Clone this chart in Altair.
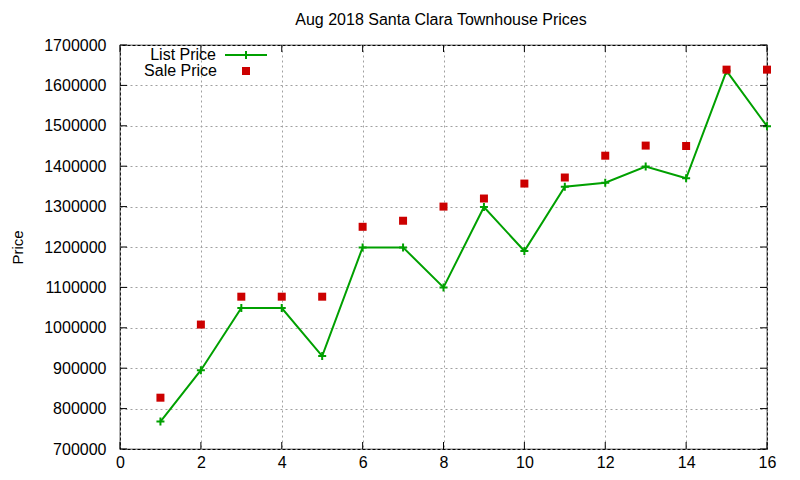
import altair as alt
import pandas as pd

# Listings, in order of sale (Aug 2018)
house = list(range(1, 17))
list_price = [768000, 895000, 1049000, 1049000, 930000, 1199000, 1199000, 1100000,
              1299000, 1190000, 1349000, 1359000, 1399000, 1370000, 1636000, 1499000]
sale_price = [827000, 1008000, 1077000, 1077000, 1077000, 1250000, 1265000, 1300000,
              1320000, 1357000, 1372000, 1426000, 1451000, 1450000, 1639000, 1639000]

x_ticks = list(range(0, 17, 2))
y_ticks = list(range(700000, 1700001, 100000))
title_text = ["Aug 2018 Santa Clara Townhouse Prices"]

_FONT = "Liberation Sans"
_FS = 16
_GREEN = "#00a000"
_RED = "#cc0000"
_CROSS = "M-1,0L1,0M0,-1L0,1"

df = pd.DataFrame({"house": house, "list": list_price, "sale": sale_price})

x_enc = alt.X("house:Q", title=None,
              scale=alt.Scale(domain=[0, 16], nice=False, zero=False),
              axis=alt.Axis(values=x_ticks, format="d", ticks=False,
                            labelPadding=5, labelFlush=False,
                            gridDash=[2, 3], gridColor="#a0a0a0", domain=False))
y_scale = alt.Scale(domain=[700000, 1700000], nice=False, zero=False)
y_axis = alt.Axis(values=y_ticks, format="d", ticks=False, labelPadding=14,
                  labelFlush=False, gridDash=[2, 3], gridColor="#a0a0a0",
                  domain=False, titleX=-98, titleY=202, titleAngle=-90,
                  titleFontSize=15, titleAlign="center",
                  titleBaseline="alphabetic")

base = alt.Chart(df)

list_line = base.mark_line(color=_GREEN, strokeWidth=2).encode(
    x=x_enc, y=alt.Y("list:Q", title="Price", scale=y_scale, axis=y_axis))
list_pts = base.mark_point(shape=_CROSS, color=_GREEN, filled=False,
                           strokeWidth=2, size=64, opacity=1).encode(
    x="house:Q", y="list:Q")
sale_pts = base.mark_point(shape="square", color=_RED, filled=True,
                           size=64, opacity=1).encode(
    x="house:Q", y="sale:Q")

# gnuplot-style inward ticks on all four sides
xt = alt.Chart(pd.DataFrame({"t": x_ticks}))
yt = alt.Chart(pd.DataFrame({"t": y_ticks}))
tick_style = dict(color="black", strokeWidth=1)
ticks = [
    xt.mark_rule(**tick_style).encode(x="t:Q", y=alt.value(404), y2=alt.value(397)),
    xt.mark_rule(**tick_style).encode(x="t:Q", y=alt.value(0), y2=alt.value(7)),
    yt.mark_rule(**tick_style).encode(y="t:Q", x=alt.value(0), x2=alt.value(7)),
    yt.mark_rule(**tick_style).encode(y="t:Q", x=alt.value(647), x2=alt.value(640)),
]

# key drawn inside the plot, top-left, labels right-aligned like gnuplot
key_df = pd.DataFrame({"label": ["List Price"]})
key_df2 = pd.DataFrame({"label": ["Sale Price"]})
text_style = dict(align="right", baseline="middle", fontSize=_FS, font=_FONT,
                  color="black")
key = [
    alt.Chart(key_df).mark_text(**text_style).encode(
        text="label:N", x=alt.value(96), y=alt.value(10)),
    alt.Chart(key_df2).mark_text(**text_style).encode(
        text="label:N", x=alt.value(97), y=alt.value(26)),
    alt.Chart(key_df).mark_rule(color=_GREEN, strokeWidth=2).encode(
        x=alt.value(105), x2=alt.value(147), y=alt.value(10)),
    alt.Chart(key_df).mark_point(shape=_CROSS, color=_GREEN, filled=False,
                                 strokeWidth=2, size=64, opacity=1).encode(
        x=alt.value(126), y=alt.value(10)),
    alt.Chart(key_df2).mark_point(shape="square", color=_RED, filled=True,
                                  size=64, opacity=1).encode(
        x=alt.value(126), y=alt.value(26)),
]

title = alt.Chart(pd.DataFrame({"t": title_text})).mark_text(
    align="center", baseline="middle", fontSize=_FS, font=_FONT, color="black"
).encode(text="t:N", x=alt.value(321), y=alt.value(-25))

chart = (
    alt.layer(list_line, list_pts, sale_pts, *ticks, *key, title)
    .properties(
        width=647, height=404,
        autosize=alt.AutoSizeParams(type="none"),
        padding={"left": 112, "top": 37, "right": 25, "bottom": 23},
    )
    .configure_view(stroke="black", strokeWidth=1.2)
    .configure_axis(labelFont=_FONT, titleFont=_FONT, labelFontSize=_FS,
                    labelColor="black", titleColor="black",
                    titleFontWeight="normal")
)

chart.save("out.html", embed_options={"renderer": "svg", "actions": False})
